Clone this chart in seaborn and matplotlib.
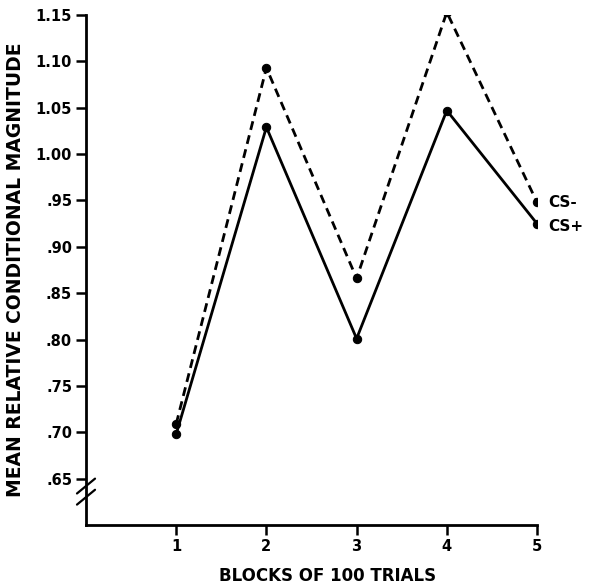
import matplotlib
matplotlib.use("Agg")
import matplotlib.pyplot as plt
import seaborn as sns
import pandas as pd

blocks = [1, 2, 3, 4, 5]
cs_minus = [0.709, 1.093, 0.866, 1.153, 0.948]
cs_plus = [0.698, 1.029, 0.801, 1.047, 0.925]
series_names = ["CS-", "CS+"]
ytick_vals = [0.65, 0.70, 0.75, 0.80, 0.85, 0.90, 0.95, 1.00, 1.05, 1.10, 1.15]
ytick_labels = [".65", ".70", ".75", ".80", ".85", ".90", ".95", "1.00", "1.05", "1.10", "1.15"]
xtick_labels = ["1", "2", "3", "4", "5"]

df = pd.DataFrame({
    "block": blocks * 2,
    "value": cs_minus + cs_plus,
    "series": [series_names[0]] * 5 + [series_names[1]] * 5,
})

sns.set_theme(style="ticks")
plt.rcParams["font.family"] = ["DejaVu Sans"]
plt.rcParams["text.color"] = "black"

fig = plt.figure(figsize=(5.89, 5.87), dpi=100)
ax = fig.add_axes([86 / 589, 62 / 587, 451 / 589, 510 / 587])

sns.lineplot(data=df, x="block", y="value", style="series",
             style_order=series_names,
             dashes={"CS-": (3.2, 2.0), "CS+": ""},
             markers={"CS-": "o", "CS+": "o"},
             color="black", linewidth=2.0, markersize=6,
             markeredgecolor="black", legend=False, ax=ax)

ax.set_xlim(0, 5)
ax.set_ylim(0.60, 1.15)
ax.set_xticks(blocks)
ax.set_xticklabels(xtick_labels)
ax.set_yticks(ytick_vals)
ax.set_yticklabels(ytick_labels)
sns.despine(ax=ax)
for s in ["left", "bottom"]:
    ax.spines[s].set_linewidth(2.0)
    ax.spines[s].set_color("black")
ax.tick_params(axis="both", direction="out", length=7, width=1.8, color="black",
               labelsize=10.5, labelcolor="black", pad=3)
for lbl in ax.get_xticklabels() + ax.get_yticklabels():
    lbl.set_fontweight("semibold")

ax.set_xlabel("BLOCKS OF 100 TRIALS", fontsize=12, fontweight="bold", color="black")
ax.xaxis.set_label_coords(0.535, -0.083)
ax.set_ylabel("MEAN RELATIVE CONDITIONAL MAGNITUDE", fontsize=13.5,
              fontweight="bold", color="black")
ax.yaxis.set_label_coords(-0.135, 0.50)

# series labels at line ends
ax.text(5.13, cs_minus[-1], "CS-", fontsize=11, fontweight="bold", va="center", ha="left",
        color="black", clip_on=False)
ax.text(5.13, cs_plus[-1] - 0.003, "CS+", fontsize=11, fontweight="bold", va="center", ha="left",
        color="black", clip_on=False)

# axis break marks
for dy in (0.0, 0.012):
    ax.plot([-0.1, 0.1], [0.622 + dy, 0.638 + dy], color="black", lw=1.6,
            transform=ax.transData, clip_on=False)
ax.plot([0, 0], [0.625, 0.641], color="white", lw=3, clip_on=False, zorder=0.5)

fig.savefig("out.png", dpi=100, facecolor="white")
